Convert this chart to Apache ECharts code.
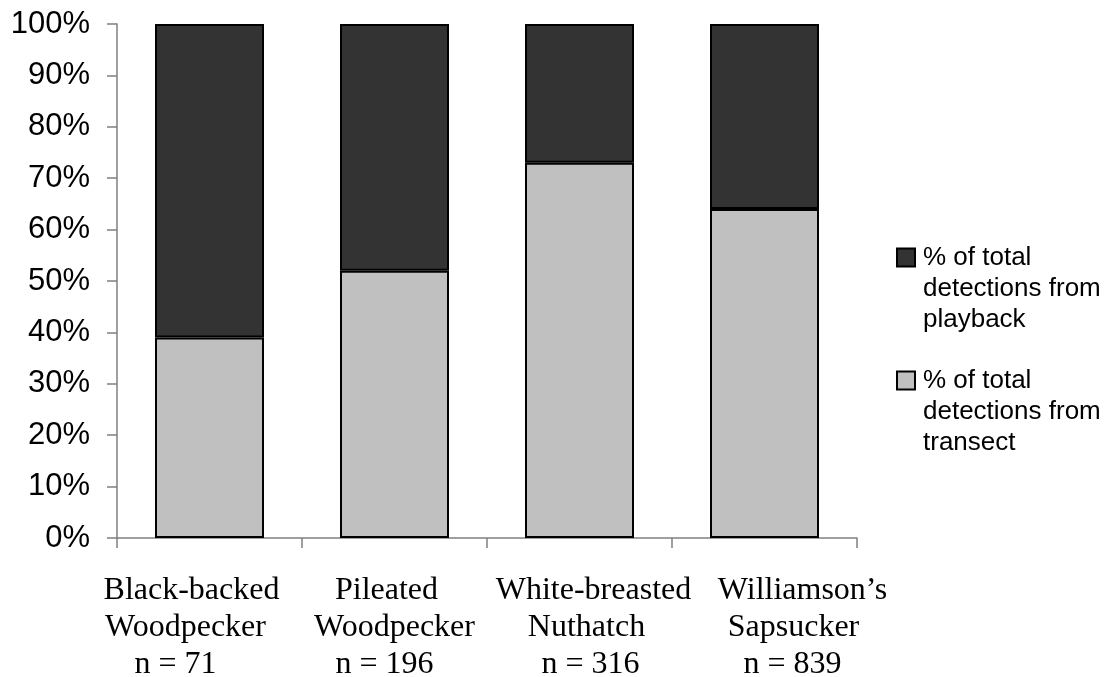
<!DOCTYPE html>
<html>
<head>
<meta charset="utf-8">
<script src="https://cdn.jsdelivr.net/npm/echarts@6/dist/echarts.min.js"></script>
<style>
    html, body { margin: 0; padding: 0; background: #fff; }
    #chart { width: 1109px; height: 677px; }
</style>
</head>
<body>
<div id="chart"></div>
<script>
// species labels (as typed under the axis) and their sample sizes
var species = ['Black-backed\nWoodpecker', 'Pileated\nWoodpecker', 'White-breasted\nNuthatch', 'Williamson\u2019s\nSapsucker'];
var sampleN = [71, 196, 316, 839];
// percent of detections
var transect = [39, 52, 73, 64];
var playback = [61, 48, 27, 36];
var legendNames = ['% of total\ndetections from\nplayback', '% of total\ndetections from\ntransect'];
// per line label shift in px (labels were placed by hand in the original)
var labelShift = [[-18, -24, -34], [-8, 0, -10], [14, 7, 11], [38, 29, 28]];

var mychart = echarts.init(document.getElementById('chart'));

var cats = [];
var rich = {};
for (var i = 0; i < species.length; i++) {
    cats.push(species[i] + '\nn = ' + sampleN[i]);
    for (var j = 0; j < 3; j++) {
        var s = labelShift[i][j];
        rich['p' + i + '_' + j] = {
            fontFamily: 'Liberation Serif, Times New Roman',
            fontSize: 32,
            lineHeight: 37,
            color: '#000',
            padding: s > 0 ? [0, 0, 0, 2 * s] : [0, -2 * s, 0, 0]
        };
    }
}

var option = {
    animation: false,
    grid: {
        left: 117,
        right: 252,
        top: 24,
        bottom: 139,
        outerBoundsMode: 'none' /* keep the plot where it is, labels may hang out */
    },
    legend: {
        orient: 'vertical',
        left: 896,
        top: 180,
        padding: 0,
        itemGap: -32,
        itemWidth: 18,
        itemHeight: 18,
        selectedMode: false,
        icon: 'rect',
        // two blank lines on top so the box lines up with the first line of text
        formatter: function (name) {
            return '\n\n' + name;
        },
        textStyle: {
            fontFamily: 'Liberation Sans, Arial',
            fontSize: 26,
            lineHeight: 31,
            color: '#000',
            padding: [0, 0, 0, 3]
        },
        data: [legendNames[0], legendNames[1]]
    },
    xAxis: {
        type: 'category',
        data: cats,
        boundaryGap: true,
        axisLine: {
            lineStyle: { color: '#808080', width: 1.5 }
        },
        axisTick: {
            show: true,
            length: 10,
            interval: 0,
            lineStyle: { color: '#808080', width: 1.5 }
        },
        axisLabel: {
            interval: 0,
            margin: 34,
            color: '#000',
            fontFamily: 'Liberation Serif, Times New Roman',
            fontSize: 32,
            lineHeight: 37,
            formatter: function (value, index) {
                var lines = value.split('\n');
                var out = [];
                for (var k = 0; k < lines.length; k++) {
                    out.push('{p' + index + '_' + k + '|' + lines[k] + '}');
                }
                return out.join('\n');
            },
            rich: rich
        }
    },
    yAxis: {
        type: 'value',
        min: 0,
        max: 100,
        interval: 10,
        splitLine: { show: false },
        axisLine: {
            show: true,
            lineStyle: { color: '#808080', width: 1.5 }
        },
        axisTick: {
            show: true,
            length: 10,
            lineStyle: { color: '#808080', width: 1.5 }
        },
        axisLabel: {
            formatter: '{value}%',
            margin: 27,
            color: '#000',
            fontFamily: 'Liberation Sans, Arial',
            fontSize: 31
        }
    },
    series: [
        {
            name: legendNames[1],
            type: 'bar',
            stack: 'total',
            barWidth: 109,
            itemStyle: {
                color: '#c0c0c0',
                borderColor: '#000',
                borderWidth: 2
            },
            data: transect
        },
        {
            name: legendNames[0],
            type: 'bar',
            stack: 'total',
            barWidth: 109,
            itemStyle: {
                color: '#333333',
                borderColor: '#000',
                borderWidth: 2
            },
            data: playback
        }
    ]
};
mychart.setOption(option, true);
</script>
</body>
</html>
